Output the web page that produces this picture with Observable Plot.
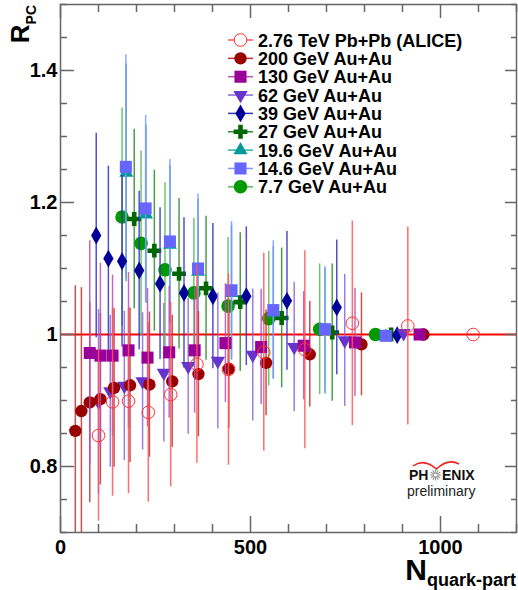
<!DOCTYPE html>
<html><head><meta charset="utf-8">
<script src="https://cdn.jsdelivr.net/npm/d3@7"></script>
<script src="https://cdn.jsdelivr.net/npm/@observablehq/plot@0.6"></script>
<style>
body{margin:0;background:#fff}
svg{display:block}
</style>
</head><body><div id="chart"></div>
<script>
// ---------- data ----------
const seriesNames = ["2.76 TeV Pb+Pb (ALICE)","200 GeV Au+Au","130 GeV Au+Au","62 GeV Au+Au","39 GeV Au+Au","27 GeV Au+Au","19.6 GeV Au+Au","14.6 GeV Au+Au","7.7 GeV Au+Au"];
const markerColors = ["#ff3333","#990000","#990099","#6633cc","#000099","#006600","#009999","#6666ff","#009900"];
const lineColors   = ["#ff5555","#bb3333","#b84db8","#8866dd","#3333bb","#2e8b2e","#33aaaa","#7f95ff","#55bb55"];
const symbols      = ["circle","circle","square","triangle","diamond","cross","triangle","square","circle"];
const rotations    = [0,0,0,180,0,0,0,0,0];
const radii        = [6.3,6.2,6.8,5.3,5.4,5.8,5.2,6.8,6.8];

const xALICE = [100,137,179,231,290,359,442,535,643,768,914,1086];
const yALICE = [0.847,0.898,0.899,0.882,0.909,0.955,0.947,0.973,0.977,1.017,1.013,1.0];
const eALICE = [0.13,0.143,0.14,0.136,0.14,0.15,0.145,0.15,0.15,0.155,0.15,0];

const x200 = [39,55,77,105,141,183,234,294,363,443,541,656,792,955];
const y200 = [0.854,0.884,0.897,0.902,0.919,0.923,0.924,0.929,0.940,0.948,0.957,0.970,0.985,1.0];
const e200 = [0.22,0.187,0.152,0.13,0.12,0.117,0.11,0.1,0.095,0.09,0.08,0.08,0.078,0];

const x130 = [77,105,137,179,229,286,353,434,528,640,775,945];
const y130 = [0.972,0.968,0.968,0.976,0.965,0.973,0.976,0.987,0.981,0.983,0.988,1.0];
const e130 = [0.17,0.14,0.122,0.118,0.105,0.1,0.095,0.09,0.087,0.082,0.082,0];

const x62 = [100,131,168,216,272,336,414,506,615,748,903];
const y62 = [0.898,0.914,0.922,0.929,0.942,0.952,0.960,0.969,0.981,0.991,1.002];
const e62 = [0.14,0.115,0.113,0.104,0.105,0.103,0.103,0.1,0.098,0.1,0];

const x39 = [94,126,162,207,262,325,401,489,596,727,886];
const y39 = [1.150,1.115,1.111,1.097,1.077,1.063,1.058,1.058,1.051,1.041,0.999];
const e39 = [0.155,0.14,0.13,0.12,0.115,0.114,0.11,0.105,0.105,0.102,0];

const x27 = [194,247,312,383,473,582,715,870];
const y27 = [1.175,1.127,1.092,1.070,1.049,1.025,1.003,1.0];
const e27 = [0.136,0.122,0.114,0.109,0.105,0.106,0.104,0];

const x19 = [173,225,288,362,450,560,696,856];
const y19 = [1.245,1.182,1.136,1.095,1.063,1.033,1.005,0.997];
const e19 = [0.165,0.135,0.12,0.11,0.102,0.1,0.095,0];

const x14 = [172,224,288,362,450,560,696,856];
const y14 = [1.254,1.191,1.141,1.100,1.067,1.037,1.008,0.998];
const e14 = [0.17,0.141,0.124,0.113,0.104,0.105,0.095,0];

const x7 = [162,212,275,351,441,548,682,829];
const y7 = [1.178,1.138,1.098,1.063,1.043,1.024,1.008,1.0];
const e7 = [0.165,0.14,0.132,0.113,0.104,0.102,0.099,0];

const yTickLabels = [0.8,1,1.2,1.4];
const xTickLabels = [0,500,1000];

// ---------- build table ----------
const xs=[xALICE,x200,x130,x62,x39,x27,x19,x14,x7];
const ys=[yALICE,y200,y130,y62,y39,y27,y19,y14,y7];
const es=[eALICE,e200,e130,e62,e39,e27,e19,e14,e7];
const rows=[];
xs.forEach((arr,s)=>arr.forEach((x,j)=>rows.push({s,x,y:ys[s][j],e:es[s][j]})));

const W=518,H=590,mL=60,mR=2,mT=4,mB=58;
const innerW=W-mL-mR, innerH=H-mT-mB;
const yMinor=d3.range(0.7,1.5001,0.05).map(v=>+v.toFixed(2)).filter(v=>!yTickLabels.some(t=>Math.abs(t-v)<1e-6));
const xMinor=d3.range(0,1201,100).filter(v=>!xTickLabels.includes(v));
const axisColor="#666";

const drawOrder=[8,5,6,7,4,3,1,2,0];
const dataMarks=[];
for(const s of drawOrder){
  const d=rows.filter(r=>r.s===s);
  dataMarks.push(Plot.ruleX(d.filter(r=>r.e>0),{x:"x",y1:r=>r.y-r.e,y2:r=>r.y+r.e,stroke:lineColors[s],strokeWidth:1.5,strokeOpacity:0.85,clip:true}));
  if(s===0){
    dataMarks.push(Plot.dot(d,{x:"x",y:"y",r:radii[s],symbol:symbols[s],fill:"none",stroke:markerColors[s],strokeWidth:1}));
  } else {
    dataMarks.push(Plot.dot(d,{x:"x",y:"y",r:radii[s],symbol:symbols[s],rotate:rotations[s],fill:markerColors[s],stroke:"none"}));
  }
}

const chart=Plot.plot({
  width:W,height:H,marginLeft:mL,marginRight:mR,marginTop:mT,marginBottom:mB,
  x:{domain:[0,1200]},
  y:{domain:[0.7,1.5]},
  style:{fontFamily:"'Liberation Sans', Arial, Helvetica, sans-serif",background:"#fff",color:"#000"},
  marks:[
    Plot.ruleY([1],{stroke:"#ff0000",strokeWidth:2}),
    ...dataMarks,
    Plot.frame({stroke:axisColor,strokeWidth:1.5}),
    Plot.tickY(yMinor,{y:d=>d,insetRight:innerW-7,stroke:axisColor,strokeWidth:1.5}),
    Plot.tickY(yTickLabels,{y:d=>d,insetRight:innerW-14,stroke:axisColor,strokeWidth:1.5}),
    Plot.tickY(yMinor,{y:d=>d,insetLeft:innerW-5,stroke:axisColor,strokeWidth:1.5}),
    Plot.tickY(yTickLabels,{y:d=>d,insetLeft:innerW-11,stroke:axisColor,strokeWidth:1.5}),
    Plot.tickX(xMinor,{x:d=>d,insetTop:innerH-8,stroke:axisColor,strokeWidth:1.5}),
    Plot.tickX(xTickLabels,{x:d=>d,insetTop:innerH-16,stroke:axisColor,strokeWidth:1.5}),
    Plot.tickX(xMinor,{x:d=>d,insetBottom:innerH-8,stroke:axisColor,strokeWidth:1.5}),
    Plot.tickX(xTickLabels,{x:d=>d,insetBottom:innerH-14,stroke:axisColor,strokeWidth:1.5}),
    Plot.axisY({ticks:yTickLabels,tickSize:0,tickPadding:3,tickFormat:d=>d===1?"1":d3.format(".1f")(d),fontSize:20,fontWeight:"bold",label:null}),
    Plot.axisX({ticks:xTickLabels,tickSize:0,tickPadding:7,tickFormat:d=>String(d),fontSize:20,fontWeight:"bold",label:null})
  ]
});
document.getElementById("chart").appendChild(chart);

// ---------- overlay: titles, legend, logo ----------
const svg=d3.select(chart);
const ff="'Liberation Sans', Arial, Helvetica, sans-serif";
const g=svg.append("g").attr("font-family",ff).attr("text-anchor","start");

// y title (rotated)
const yt=g.append("text").attr("transform","translate(29,5) rotate(-90)").attr("text-anchor","end")
  .attr("font-weight","bold").attr("fill","#000");
yt.append("tspan").attr("font-size",26).text("R");
yt.append("tspan").attr("font-size",14).attr("dy",7).text("PC");

// x title
const xt=g.append("text").attr("x",516).attr("y",580).attr("text-anchor","end").attr("font-weight","bold").attr("fill","#000");
xt.append("tspan").attr("font-size",30).text("N");
xt.append("tspan").attr("font-size",18).attr("dy",6).text("quark-part");

// legend
const symMap={circle:d3.symbolCircle,square:d3.symbolSquare,triangle:d3.symbolTriangle,diamond:d3.symbolDiamond,cross:d3.symbolCross};
seriesNames.forEach((name,i)=>{
  const y=40+i*18.35;
  g.append("line").attr("x1",228).attr("x2",253).attr("y1",y).attr("y2",y).attr("stroke",lineColors[i]).attr("stroke-width",1.5);
  const p=g.append("path").attr("d",d3.symbol(symMap[symbols[i]],Math.PI*radii[i]*radii[i])())
    .attr("transform",`translate(240.5,${y}) rotate(${rotations[i]})`);
  if(i===0) p.attr("fill","#fff").attr("stroke",markerColors[i]).attr("stroke-width",1);
  else p.attr("fill",markerColors[i]);
  g.append("text").attr("x",258).attr("y",y+6.5).attr("text-anchor","start").attr("font-size",18).attr("font-weight","bold").attr("fill","#000").text(name);
});

// PHENIX logo
const lg=g.append("g");
lg.append("path").attr("d","M413,466 Q424,458 436.5,469 Q448,458 459,464").attr("fill","none").attr("stroke","#ee2222").attr("stroke-width",1.5);
lg.append("text").attr("x",409).attr("y",480).attr("text-anchor","start").attr("font-size",14).attr("font-weight","bold").attr("fill","#111").text("PH");
lg.append("text").attr("x",442).attr("y",480).attr("text-anchor","start").attr("font-size",14).attr("font-weight","bold").attr("fill","#111").text("ENIX");
for(let k=0;k<12;k++){
  const a=k*Math.PI/6;
  lg.append("line").attr("x1",435.5+Math.cos(a)*1.5).attr("y1",475+Math.sin(a)*1.5)
    .attr("x2",435.5+Math.cos(a)*5.5).attr("y2",475+Math.sin(a)*5.5).attr("stroke","#999").attr("stroke-width",1.2);
}
lg.append("text").attr("x",407).attr("y",496).attr("text-anchor","start").attr("font-size",14).attr("fill","#222").text("preliminary");
</script>
</body></html>
